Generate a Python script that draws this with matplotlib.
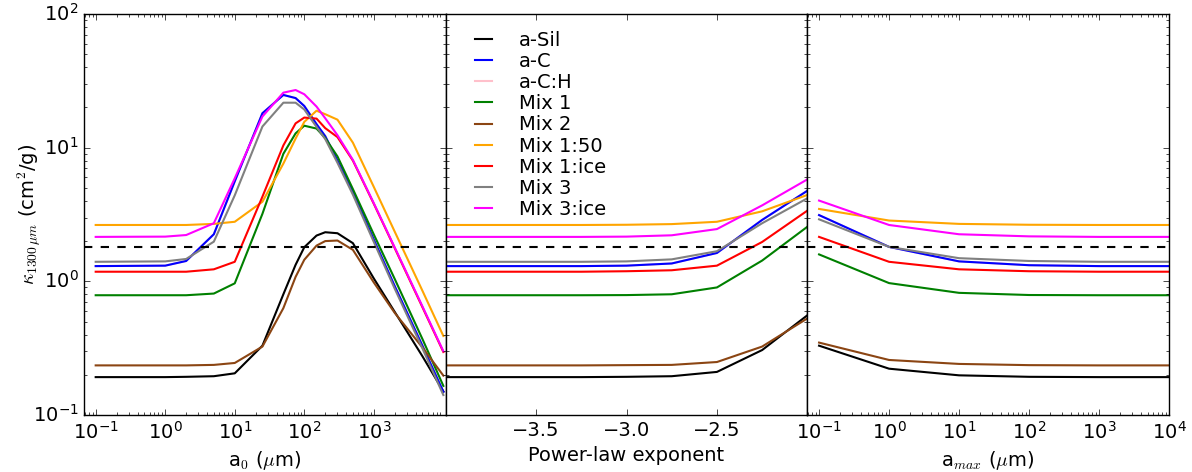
import matplotlib
matplotlib.use('Agg')
import matplotlib.pyplot as plt

plt.style.use('classic')
plt.rcParams['font.size'] = 14
plt.rcParams['figure.facecolor'] = 'white'
plt.rcParams['savefig.facecolor'] = 'white'

names = ['a-Sil', 'a-C', 'a-C:H', 'Mix 1', 'Mix 2', 'Mix 1:50', 'Mix 1:ice', 'Mix 3', 'Mix 3:ice']
colors = ['black', 'blue', 'pink', 'green', 'saddlebrown', 'orange', 'red', 'gray', 'magenta']

# panel 1: characteristic size a0 (micron)
a0 = [0.1, 1, 2, 5, 10, 25, 50, 75, 100, 150, 200, 300, 500, 1000, 2000, 5000, 10000]
sil_a0 = [0.192, 0.192, 0.193, 0.195, 0.205, 0.33, 0.80, 1.33, 1.80, 2.20, 2.33, 2.29, 1.93, 1.05, 0.59, 0.275, 0.15]
ac_a0 = [1.30, 1.31, 1.42, 2.25, 5.6, 18.1, 24.8, 23.5, 20.5, 15.0, 12.2, 8.0, 4.7, 2.05, 0.92, 0.33, 0.149]
ach_a0 = [1.30, 1.31, 1.42, 2.25, 5.6, 18.1, 24.8, 23.5, 20.5, 15.0, 12.2, 8.0, 4.7, 2.05, 0.92, 0.33, 0.149]
mix1_a0 = [0.787, 0.787, 0.787, 0.81, 0.966, 3.2, 9.0, 12.8, 14.6, 13.9, 11.8, 8.6, 4.9, 2.24, 1.04, 0.37, 0.165]
mix2_a0 = [0.235, 0.235, 0.235, 0.237, 0.245, 0.325, 0.63, 1.08, 1.45, 1.85, 2.00, 2.02, 1.72, 0.98, 0.58, 0.32, 0.197]
mix150_a0 = [2.64, 2.64, 2.64, 2.69, 2.79, 3.94, 7.6, 11.7, 15.6, 18.9, 17.8, 16.2, 10.9, 5.08, 2.35, 0.85, 0.39]
mix1ice_a0 = [1.18, 1.18, 1.18, 1.23, 1.40, 4.3, 10.4, 15.2, 16.8, 16.5, 14.0, 12.0, 8.0, 3.8, 1.77, 0.64, 0.296]
mix3_a0 = [1.40, 1.41, 1.47, 1.98, 4.4, 14.4, 21.7, 21.7, 19.3, 14.3, 11.6, 7.7, 4.45, 1.97, 0.88, 0.315, 0.141]
mix3ice_a0 = [2.15, 2.16, 2.22, 2.72, 5.9, 17.1, 25.8, 27.0, 25.1, 20.3, 16.6, 12.4, 8.1, 3.84, 1.79, 0.65, 0.30]

# panel 2: power-law exponent
p = [-4.0, -3.75, -3.5, -3.25, -3.0, -2.75, -2.5, -2.25, -2.0]
sil_p = [0.192, 0.192, 0.192, 0.192, 0.193, 0.195, 0.21, 0.306, 0.557]
ac_p = [1.30, 1.30, 1.30, 1.30, 1.31, 1.36, 1.63, 2.88, 4.76]
ach_p = [1.30, 1.30, 1.30, 1.30, 1.31, 1.36, 1.63, 2.88, 4.76]
mix1_p = [0.787, 0.787, 0.787, 0.787, 0.789, 0.80, 0.90, 1.43, 2.56]
mix2_p = [0.235, 0.235, 0.235, 0.235, 0.236, 0.237, 0.249, 0.325, 0.528]
mix150_p = [2.64, 2.64, 2.64, 2.64, 2.65, 2.68, 2.79, 3.34, 4.43]
mix1ice_p = [1.18, 1.18, 1.18, 1.18, 1.19, 1.21, 1.31, 1.97, 3.38]
mix3_p = [1.40, 1.40, 1.40, 1.40, 1.41, 1.46, 1.68, 2.72, 4.18]
mix3ice_p = [2.15, 2.15, 2.15, 2.15, 2.16, 2.21, 2.46, 3.70, 5.79]

# panel 3: maximum size amax (micron)
amax = [0.1, 1, 10, 100, 1000, 10000]
sil_m = [0.330, 0.222, 0.198, 0.193, 0.192, 0.192]
ac_m = [3.13, 1.81, 1.41, 1.32, 1.30, 1.30]
ach_m = [3.13, 1.81, 1.41, 1.32, 1.30, 1.30]
mix1_m = [1.59, 0.97, 0.82, 0.79, 0.787, 0.787]
mix2_m = [0.348, 0.258, 0.241, 0.236, 0.235, 0.235]
mix150_m = [3.48, 2.85, 2.69, 2.65, 2.64, 2.64]
mix1ice_m = [2.15, 1.40, 1.23, 1.19, 1.18, 1.18]
mix3_m = [2.91, 1.81, 1.49, 1.42, 1.40, 1.40]
mix3ice_m = [4.02, 2.64, 2.25, 2.17, 2.15, 2.15]

kappa_ref = 1.8

panel1 = [sil_a0, ac_a0, ach_a0, mix1_a0, mix2_a0, mix150_a0, mix1ice_a0, mix3_a0, mix3ice_a0]
panel2 = [sil_p, ac_p, ach_p, mix1_p, mix2_p, mix150_p, mix1ice_p, mix3_p, mix3ice_p]
panel3 = [sil_m, ac_m, ach_m, mix1_m, mix2_m, mix150_m, mix1ice_m, mix3_m, mix3ice_m]

fig, axes = plt.subplots(1, 3, sharey=True, figsize=(11.92, 4.72), dpi=100)
fig.subplots_adjust(left=0.0705, right=0.9807, top=0.9703, bottom=0.1208, wspace=0)
ax1, ax2, ax3 = axes

for ax, xs, panel in [(ax1, a0, panel1), (ax2, p, panel2), (ax3, amax, panel3)]:
    for name, c, ys in zip(names, colors, panel):
        z = 1.5 if name == 'a-C:H' else 2
        ax.plot(xs, ys, color=c, lw=1.5, label=name, zorder=z)
    ax.axhline(kappa_ref, color='k', ls='--', lw=1.5)

ax1.set_yscale('log')
ax1.set_ylim(0.1, 100)

ax1.set_xscale('log')
ax1.set_xlim(0.068, 1.08e4)
ax1.set_xticks([0.1, 1, 10, 100, 1000])
ax1.set_xlabel(r'a$_0$ ($\mu$m)')
ax1.set_ylabel(r'$\kappa_{1300\,\mu m}$ (cm$^2$/g)', labelpad=-7.5)

ax2.set_xlim(-4, -2)
ax2.set_xticks([-3.5, -3.0, -2.5])
ax2.set_xlabel('Power-law exponent')
ax2.legend(loc='upper left', bbox_to_anchor=(0.064, 0.958), frameon=False,
           fontsize=14, borderpad=0, borderaxespad=0, labelspacing=0.11,
           handlelength=1.5, handletextpad=1.07, numpoints=2)

ax3.set_xscale('log')
ax3.set_xlim(0.068, 1e4)
ax3.set_xticks([0.1, 1, 10, 100, 1000, 10000])
ax3.set_xlabel(r'a$_{max}$ ($\mu$m)')

fig.savefig('out.png', dpi=100, facecolor='white')
